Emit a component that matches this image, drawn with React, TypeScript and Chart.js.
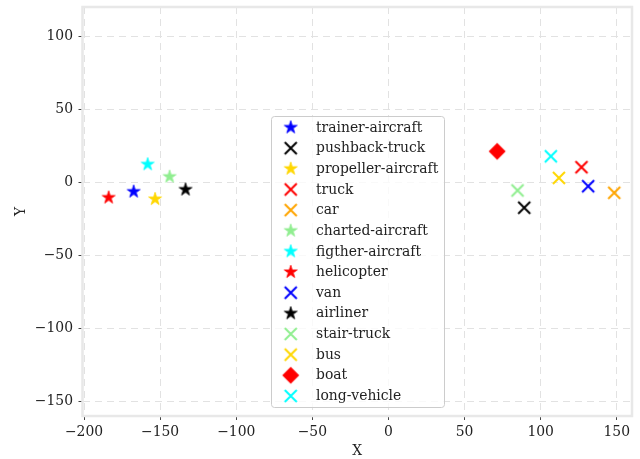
import React, { useEffect, useRef } from "react";
import { Chart, registerables } from "chart.js";

Chart.register(...registerables);

const categories = [
  "trainer-aircraft",
  "pushback-truck",
  "propeller-aircraft",
  "truck",
  "car",
  "charted-aircraft",
  "figther-aircraft",
  "helicopter",
  "van",
  "airliner",
  "stair-truck",
  "bus",
  "boat",
  "long-vehicle",
];
const xValues = [-167.4, 89.2, -153.3, 126.8, 148.3, -143.8, -158.2, -183.8, 131.2, -133.3, 84.8, 112.0, 71.4, 106.7];
const yValues = [-6.4, -17.4, -11.5, 10.3, -7.2, 3.8, 12.3, -10.5, -2.7, -5.0, -5.6, 3.0, 21.2, 17.8];
const markerKinds = ["star", "x", "star", "x", "x", "star", "star", "star", "x", "star", "x", "x", "diamond", "x"];
const markerColors = [
  "#0000ff", "#000000", "#ffd700", "#ff0000", "#ffa500", "#90ee90", "#00ffff",
  "#ff0000", "#0000ff", "#000000", "#90ee90", "#ffd700", "#ff0000", "#00ffff",
];
const xTicks = [-200, -150, -100, -50, 0, 50, 100, 150];
const yTicks = [-150, -100, -50, 0, 50, 100];
const xTitle = "X";
const yTitle = "Y";

const FONT = "'DejaVu Serif', serif";
const FONT_SIZE = 13.9;
const TEXT_COLOR = "#222222";

function makeMarker(kind: string, color: string): HTMLCanvasElement {
  const c = document.createElement("canvas");
  if (kind === "star") {
    const R = 6.8;
    const size = 16;
    c.width = size;
    c.height = size;
    const ctx = c.getContext("2d")!;
    const cx = size / 2, cy = size / 2;
    ctx.beginPath();
    for (let i = 0; i < 10; i++) {
      const a = -Math.PI / 2 + (i * Math.PI) / 5;
      const r = i % 2 === 0 ? R : R * 0.382;
      const px = cx + r * Math.cos(a);
      const py = cy + r * Math.sin(a);
      if (i === 0) ctx.moveTo(px, py);
      else ctx.lineTo(px, py);
    }
    ctx.closePath();
    ctx.fillStyle = color;
    ctx.fill();
    ctx.strokeStyle = color;
    ctx.lineWidth = 0.8;
    ctx.lineJoin = "miter";
    ctx.stroke();
  } else if (kind === "x") {
    const h = 6;
    const size = 16;
    c.width = size;
    c.height = size;
    const ctx = c.getContext("2d")!;
    const cx = size / 2, cy = size / 2;
    ctx.strokeStyle = color;
    ctx.lineWidth = 2;
    ctx.beginPath();
    ctx.moveTo(cx - h, cy - h);
    ctx.lineTo(cx + h, cy + h);
    ctx.moveTo(cx - h, cy + h);
    ctx.lineTo(cx + h, cy - h);
    ctx.stroke();
  } else {
    const h = 8.5;
    const size = 20;
    c.width = size;
    c.height = size;
    const ctx = c.getContext("2d")!;
    const cx = size / 2, cy = size / 2;
    ctx.beginPath();
    ctx.moveTo(cx, cy - h);
    ctx.lineTo(cx + h, cy);
    ctx.lineTo(cx, cy + h);
    ctx.lineTo(cx - h, cy);
    ctx.closePath();
    ctx.fillStyle = color;
    ctx.fill();
  }
  return c;
}

const fmt = (v: number | string) => {
  const n = Number(v);
  return n < 0 ? "\u2212" + Math.abs(n) : String(n);
};

export default function App() {
  const ref = useRef<HTMLCanvasElement | null>(null);

  useEffect(() => {
    if (!ref.current) return;
    const markers = categories.map((_, i) => makeMarker(markerKinds[i], markerColors[i]));

    const framePlugin = {
      id: "frame",
      beforeDatasetsDraw(chart: any) {
        const { ctx, chartArea } = chart;
        ctx.save();
        ctx.strokeStyle = "#e8e8e8";
        ctx.lineWidth = 2.5;
        ctx.strokeRect(chartArea.left, chartArea.top, chartArea.right - chartArea.left, chartArea.bottom - chartArea.top);
        ctx.restore();
      },
      afterDraw(chart: any) {
        const { ctx, chartArea } = chart;
        ctx.save();
        ctx.fillStyle = TEXT_COLOR;
        ctx.font = `${FONT_SIZE}px ${FONT}`;
        ctx.textAlign = "center";
        ctx.textBaseline = "middle";
        ctx.fillText(xTitle, (chartArea.left + chartArea.right) / 2, 451);
        ctx.save();
        ctx.translate(21, (chartArea.top + chartArea.bottom) / 2);
        ctx.rotate(-Math.PI / 2);
        ctx.fillText(yTitle, 0, 0);
        ctx.restore();

        const lx = 271.5, ly = 116.5, lw = 173, lh = 291;
        ctx.beginPath();
        (ctx as any).roundRect(lx, ly, lw, lh, 3);
        ctx.fillStyle = "rgba(255,255,255,0.8)";
        ctx.fill();
        ctx.strokeStyle = "#cccccc";
        ctx.lineWidth = 1;
        ctx.stroke();
        const rowH = 20.65;
        const firstY = 127.5;
        ctx.textAlign = "left";
        ctx.textBaseline = "middle";
        ctx.font = `${FONT_SIZE}px ${FONT}`;
        categories.forEach((name, i) => {
          const cy = firstY + i * rowH;
          const m = markers[i];
          ctx.drawImage(m, 290.7 - m.width / 2, cy - m.height / 2);
          ctx.fillStyle = TEXT_COLOR;
          ctx.fillText(name, 316, cy + 0.5);
        });
        ctx.restore();
      },
    };

    const tickFont = { family: FONT, size: FONT_SIZE };

    const chart = new Chart(ref.current, {
      type: "scatter",
      data: {
        datasets: categories.map((c, i) => ({
          label: c,
          data: [{ x: xValues[i], y: yValues[i] }],
          pointStyle: markers[i] as any,
          pointRadius: 6,
          pointHoverRadius: 6,
          backgroundColor: markerColors[i],
          borderColor: markerColors[i],
        })),
      },
      options: {
        animation: false,
        responsive: true,
        maintainAspectRatio: false,
        events: [],
        layout: { padding: { left: 0, top: 5, right: 8, bottom: 0 } },
        plugins: { legend: { display: false }, tooltip: { enabled: false } },
        scales: {
          x: {
            type: "linear",
            min: -201,
            max: 160,
            afterBuildTicks: (s: any) => {
              s.ticks = xTicks.map((v) => ({ value: v }));
            },
            afterFit: (s: any) => {
              s.height = 43;
              s.paddingLeft = 0;
              s.paddingRight = 0;
            },
            ticks: {
              callback: (v: any) => fmt(v),
              font: tickFont,
              color: TEXT_COLOR,
              padding: 4,
              maxRotation: 0,
              autoSkip: false,
            },
            grid: {
              color: "#e2e2e2",
              lineWidth: 1,
              tickColor: "#444444",
              tickLength: 4,
              tickWidth: 1,
              tickBorderDash: [],
            },
            border: { display: false, dash: [7, 5] },
          },
          y: {
            type: "linear",
            min: -160,
            max: 120,
            afterBuildTicks: (s: any) => {
              s.ticks = yTicks.map((v) => ({ value: v }));
            },
            afterFit: (s: any) => {
              s.width = 82.5;
              s.paddingTop = 0;
              s.paddingBottom = 0;
            },
            ticks: {
              callback: (v: any) => fmt(v),
              font: tickFont,
              color: TEXT_COLOR,
              padding: 5.5,
              autoSkip: false,
            },
            grid: {
              color: "#e2e2e2",
              lineWidth: 1,
              tickColor: "#444444",
              tickLength: 4,
              tickWidth: 1,
              tickBorderDash: [],
            },
            border: { display: false, dash: [7, 5] },
          },
        },
      },
      plugins: [framePlugin],
    });
    return () => chart.destroy();
  }, []);

  return (
    <div style={{ position: "fixed", left: 0, top: 0, width: 640, height: 459, background: "#ffffff" }}>
      <canvas ref={ref} />
    </div>
  );
}
